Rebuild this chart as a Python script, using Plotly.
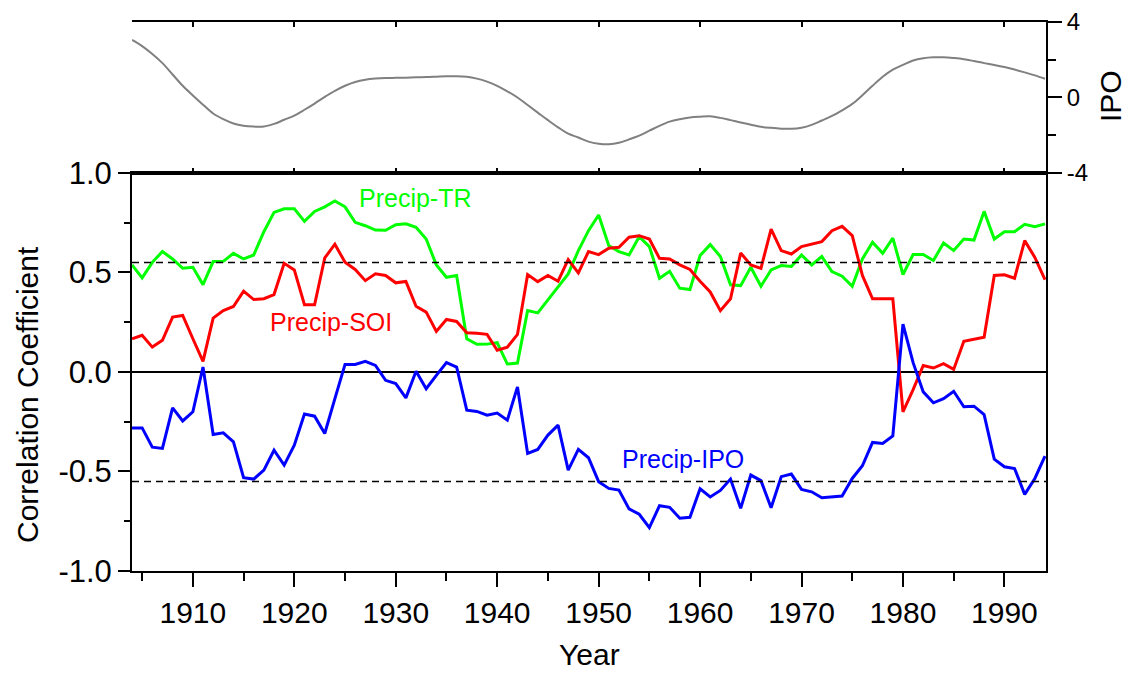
import plotly.graph_objects as go

years = list(range(1904, 1995))

precip_tr = [0.538, 0.473, 0.551, 0.605, 0.568, 0.521, 0.526, 0.439, 0.555, 0.556,
             0.596, 0.568, 0.588, 0.705, 0.802, 0.820, 0.820, 0.757, 0.807, 0.830,
             0.859, 0.830, 0.752, 0.735, 0.713, 0.712, 0.740, 0.745, 0.727, 0.668,
             0.538, 0.476, 0.485, 0.167, 0.139, 0.140, 0.147, 0.040, 0.045, 0.309,
             0.297, 0.364, 0.429, 0.493, 0.610, 0.710, 0.789, 0.635, 0.605, 0.588,
             0.680, 0.630, 0.471, 0.506, 0.421, 0.414, 0.585, 0.640, 0.580, 0.438,
             0.434, 0.526, 0.431, 0.513, 0.535, 0.530, 0.588, 0.538, 0.580, 0.505,
             0.481, 0.431, 0.568, 0.652, 0.596, 0.673, 0.490, 0.590, 0.590, 0.560,
             0.648, 0.610, 0.668, 0.663, 0.807, 0.668, 0.705, 0.705, 0.742, 0.730,
             0.744]

precip_soi = [0.167, 0.184, 0.125, 0.159, 0.276, 0.284, 0.167, 0.053, 0.271, 0.309,
              0.329, 0.406, 0.364, 0.368, 0.389, 0.546, 0.513, 0.338, 0.338, 0.573,
              0.642, 0.551, 0.515, 0.459, 0.493, 0.485, 0.448, 0.455, 0.330, 0.301,
              0.204, 0.264, 0.254, 0.197, 0.195, 0.189, 0.109, 0.125, 0.189, 0.490,
              0.454, 0.485, 0.456, 0.565, 0.498, 0.605, 0.590, 0.622, 0.627, 0.677,
              0.685, 0.668, 0.571, 0.568, 0.538, 0.515, 0.456, 0.402, 0.308, 0.368,
              0.598, 0.538, 0.521, 0.718, 0.610, 0.593, 0.630, 0.643, 0.655, 0.710,
              0.732, 0.685, 0.485, 0.368, 0.368, 0.368, -0.200, -0.089, 0.033, 0.020,
              0.042, 0.013, 0.154, 0.164, 0.175, 0.485, 0.488, 0.471, 0.660, 0.576,
              0.464]

precip_ipo = [-0.281, -0.281, -0.378, -0.384, -0.180, -0.246, -0.200, 0.025, -0.314, -0.306,
              -0.351, -0.531, -0.538, -0.493, -0.393, -0.468, -0.368, -0.211, -0.222, -0.309,
              -0.134, 0.038, 0.038, 0.053, 0.033, -0.042, -0.058, -0.130, 0.004, -0.084,
              -0.017, 0.047, 0.025, -0.192, -0.198, -0.217, -0.206, -0.242, -0.075, -0.409,
              -0.389, -0.317, -0.267, -0.493, -0.389, -0.431, -0.551, -0.585, -0.593, -0.688,
              -0.715, -0.782, -0.672, -0.680, -0.735, -0.730, -0.587, -0.628, -0.595, -0.538,
              -0.685, -0.518, -0.546, -0.682, -0.526, -0.513, -0.590, -0.602, -0.632, -0.628,
              -0.623, -0.535, -0.471, -0.354, -0.359, -0.321, 0.240, 0.047, -0.100, -0.155,
              -0.134, -0.097, -0.175, -0.172, -0.214, -0.438, -0.476, -0.485, -0.615, -0.535,
              -0.423]

ipo_index = [3.05, 2.72, 2.30, 1.82, 1.22, 0.62, 0.11, -0.38, -0.85, -1.15,
             -1.38, -1.50, -1.54, -1.54, -1.40, -1.18, -0.96, -0.65, -0.32, 0.03,
             0.35, 0.62, 0.82, 0.94, 1.00, 1.03, 1.04, 1.05, 1.07, 1.08,
             1.10, 1.12, 1.13, 1.10, 1.00, 0.84, 0.62, 0.33, 0.00, -0.40,
             -0.80, -1.20, -1.58, -1.92, -2.12, -2.34, -2.45, -2.48, -2.40, -2.22,
             -2.02, -1.76, -1.50, -1.28, -1.15, -1.06, -1.02, -1.00, -1.08, -1.20,
             -1.32, -1.44, -1.55, -1.61, -1.65, -1.66, -1.60, -1.45, -1.22, -0.98,
             -0.68, -0.34, 0.12, 0.62, 1.10, 1.48, 1.73, 1.96, 2.08, 2.13,
             2.13, 2.09, 2.03, 1.93, 1.82, 1.72, 1.61, 1.48, 1.33, 1.17,
             0.99]

sig_level = 0.55
x_ticks = [1910, 1920, 1930, 1940, 1950, 1960, 1970, 1980, 1990]
y_ticks = [-1.0, -0.5, 0.0, 0.5, 1.0]
y_ticktext = ["-1.0", "-0.5", "0.0", "0.5", "1.0"]
ipo_ticks = [-4, 0, 4]
ipo_ticktext = ["-4", "0", "4"]

FONT = "Liberation Sans, Arial, sans-serif"
xr = [1904, 1994.1]

fig = go.Figure()
fig.add_trace(go.Scatter(x=years, y=ipo_index, mode="lines", xaxis="x2", yaxis="y2",
                         line=dict(color="#808080", width=2, shape="spline"), showlegend=False))
fig.add_trace(go.Scatter(x=years, y=precip_tr, mode="lines",
                         line=dict(color="#00ff00", width=3), showlegend=False))
fig.add_trace(go.Scatter(x=years, y=precip_soi, mode="lines",
                         line=dict(color="#ff0000", width=3), showlegend=False))
fig.add_trace(go.Scatter(x=years, y=precip_ipo, mode="lines",
                         line=dict(color="#0000ff", width=3), showlegend=False))

for s in (sig_level, -sig_level):
    fig.add_shape(type="line", xref="x domain", yref="y", x0=0, x1=1, y0=s, y1=s,
                  line=dict(color="black", width=1.5, dash="7px,5px"))

fig.update_layout(
    width=1127, height=665,
    margin=dict(l=124, r=89, t=14, b=102, autoexpand=False),
    paper_bgcolor="white", plot_bgcolor="white",
    font=dict(family=FONT, color="black"),
    xaxis=dict(domain=[0, 1], anchor="y", range=xr, tickvals=x_ticks, automargin=False,
               ticks="outside", ticklen=14, tickwidth=2, tickcolor="black",
               minor=dict(dtick=5, tick0=1905, ticks="outside", ticklen=8, tickwidth=2, tickcolor="black"),
               showline=True, linewidth=2, linecolor="black", mirror=True,
               showgrid=False, zeroline=False, tickfont=dict(size=30)),
    yaxis=dict(domain=[0, 0.725], anchor="x", range=[-1, 1], tickvals=y_ticks, ticktext=y_ticktext,
               automargin=False,
               ticks="outside", ticklen=12, tickwidth=2, tickcolor="black",
               minor=dict(dtick=0.25, tick0=0, ticks="outside", ticklen=6, tickwidth=2, tickcolor="black"),
               showline=True, linewidth=2, linecolor="black", mirror=True,
               showgrid=False, zeroline=True, zerolinecolor="black", zerolinewidth=2,
               tickfont=dict(size=31)),
    xaxis2=dict(domain=[0, 1], anchor="y2", range=xr, tickvals=x_ticks, showticklabels=False,
                automargin=False,
                ticks="inside", ticklen=5, tickwidth=1.5, tickcolor="black",
                showline=True, linewidth=2, linecolor="black", mirror="ticks",
                showgrid=False, zeroline=False),
    yaxis2=dict(domain=[0.725, 1], anchor="x2", side="right", range=[-4, 4],
                tickvals=ipo_ticks, ticktext=ipo_ticktext, automargin=False,
                ticks="outside", ticklen=14, tickwidth=2, tickcolor="black",
                minor=dict(tickvals=[-2, 2], ticks="outside", ticklen=8, tickwidth=2, tickcolor="black"),
                showline=True, linewidth=2, linecolor="black",
                showgrid=False, zeroline=False, tickfont=dict(size=24)),
    yaxis3=dict(domain=[0.725, 1], anchor="x2", overlaying="y2", side="left", range=[-4, 4],
                tickvals=[-2, 0, 2], showticklabels=False, automargin=False,
                ticks="inside", ticklen=6, tickwidth=2, tickcolor="black",
                showline=True, linewidth=2, linecolor="black",
                showgrid=False, zeroline=False),
)

annots = [
    dict(text="Precip-TR", x=1931.9, y=0.874, color="#00ff00"),
    dict(text="Precip-SOI", x=1923.6, y=0.252, color="#ff0000"),
    dict(text="Precip-IPO", x=1958.3, y=-0.435, color="#0000ff"),
]
for a in annots:
    fig.add_annotation(text=a["text"], x=a["x"], y=a["y"], xref="x", yref="y",
                       showarrow=False, xanchor="center", yanchor="middle",
                       font=dict(family=FONT, size=25, color=a["color"]))

fig.add_annotation(text="Correlation Coefficient", xref="paper", yref="paper",
                   x=-0.1149, y=0.3224, textangle=-90, showarrow=False,
                   xanchor="center", yanchor="middle", font=dict(family=FONT, size=30, color="black"))
fig.add_annotation(text="Year", xref="paper", yref="paper", x=0.5, y=-0.153,
                   showarrow=False, xanchor="center", yanchor="middle",
                   font=dict(family=FONT, size=30, color="black"))
fig.add_annotation(text="IPO", xref="paper", yref="paper", x=1.070, y=0.865, textangle=-90,
                   showarrow=False, xanchor="center", yanchor="middle",
                   font=dict(family=FONT, size=30, color="black"))

fig.write_html("out.html")
